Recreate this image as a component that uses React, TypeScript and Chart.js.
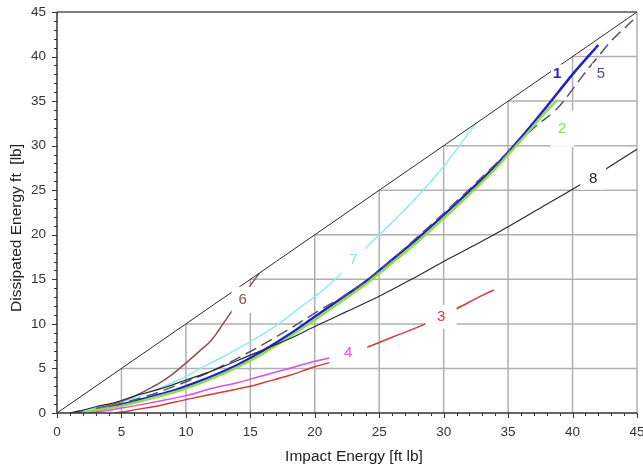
import React, { useEffect, useRef } from 'react';
import { Chart, registerables } from 'chart.js';

Chart.register(...registerables);

// ---- Data ----
const tickValues = [0, 5, 10, 15, 20, 25, 30, 35, 40, 45];

const diagonal: [number, number][] = [[0, 0], [45, 45]];

const curve1: [number, number][] = [
  [1.3, 0.05], [2, 0.2], [3, 0.4], [4, 0.65], [5, 0.95], [6, 1.3], [7, 1.7], [8, 2.1], [9, 2.5],
  [10, 3.0], [12, 4.1], [14, 5.4], [16, 7.0], [18, 8.8], [20, 10.8], [22, 12.8], [24, 14.8],
  [26, 17.2], [28, 19.6], [30, 22.2], [32, 24.9], [34, 27.7], [36, 30.9], [38, 34.4], [40, 38.0], [42, 41.3],
];

const curve2: [number, number][] = [
  [2, 0.1], [3, 0.3], [4, 0.55], [5, 0.8], [6, 1.15], [8, 1.9], [10, 2.75], [12, 3.85], [14, 5.15],
  [16, 6.7], [18, 8.5], [20, 10.45], [22, 12.45], [24, 14.5], [26, 16.85], [28, 19.25], [30, 21.85],
  [32, 24.55], [34, 27.4], [36, 30.6], [38, 33.9], [38.8, 35.1],
];

const curve3: [number, number][] = [
  [4.5, 0.0], [5, 0.1], [6, 0.35], [7, 0.6], [8, 0.85], [10, 1.5], [12, 2.1], [14, 2.7], [15, 3.0],
  [16, 3.4], [18, 4.2], [20, 5.2], [21, 5.6], [22, 6.1], [23, 6.8], [24.1, 7.4], [26, 8.5],
  [28.6, 10.0], [31, 11.7], [33, 13.2], [33.9, 13.8],
];

const curve4: [number, number][] = [
  [2.5, 0.0], [3, 0.1], [4, 0.3], [5, 0.55], [6, 0.8], [8, 1.35], [10, 1.95], [12, 2.75], [14, 3.4],
  [15, 3.8], [16, 4.2], [18, 5.0], [20, 5.8], [21.2, 6.2],
];

const curve5: [number, number][] = [
  [1.5, 0.1], [3, 0.45], [5, 1.1], [7, 1.9], [10, 3.5], [12, 4.7], [15, 6.9], [18, 9.4], [20, 11.2],
  [23, 13.8], [25, 16.0], [28, 19.8], [30, 22.4], [33, 26.5], [35, 29.3], [37, 32.0], [38.9, 34.3],
  [40.5, 37.3], [41.3, 38.8], [42.1, 40.2], [42.9, 41.6], [44.7, 44.1],
];

const curve6: [number, number][] = [
  [3, 0.5], [4, 0.85], [5, 1.3], [6, 1.9], [7, 2.6], [8, 3.4], [9, 4.4], [10, 5.6], [11.1, 7.0],
  [12, 8.2], [12.6, 9.4], [13.4, 11.1], [14, 12.3], [14.8, 13.9], [15.7, 15.7],
];

const curve7: [number, number][] = [
  [1.3, 0.1], [2, 0.25], [3, 0.5], [4, 0.85], [5, 1.25], [6, 1.7], [8, 2.8], [10, 4.1], [11, 4.9],
  [13, 6.4], [15, 8.0], [17, 9.8], [19, 12.0], [20.4, 13.5], [22, 15.6], [24.5, 19.3], [26.5, 22.1],
  [28.4, 25.0], [30, 27.7], [32.5, 32.5],
];

const curve8: [number, number][] = [
  [1, 0.0], [2, 0.3], [3, 0.7], [4, 1.0], [5, 1.4], [6, 1.9], [8, 2.7], [10, 3.7], [12, 4.7],
  [15, 6.5], [18, 8.3], [20, 9.7], [22.5, 11.4], [25, 13.1], [27.5, 15.0], [30, 17.0], [32.5, 18.9],
  [35, 20.9], [37.5, 23.0], [40, 25.1], [42.5, 27.3], [45, 29.6],
];

// curve labels: text, position in data units
const labelTexts = ['1', '2', '3', '4', '5', '6', '7', '8'];
const labelX = [38.8, 39.2, 29.8, 22.6, 42.2, 14.4, 23.0, 41.6];
const labelY = [38.1, 31.9, 10.8, 6.8, 38.1, 12.7, 17.2, 26.3];

// ---- Styles ----
const FONT = "'Liberation Sans', Arial, sans-serif";
const labelStyle = [
  { color: '#2323c4', w: 12, h: 18, bold: true },
  { color: '#8fdc4c', w: 24, h: 36, bold: false },
  { color: '#d43a3a', w: 31, h: 24, bold: false },
  { color: '#e04ee0', w: 38, h: 24, bold: false },
  { color: '#50507e', w: 18, h: 20, bold: false },
  { color: '#8a5050', w: 22, h: 26, bold: false },
  { color: '#7fe6ee', w: 24, h: 30, bold: false },
  { color: '#222222', w: 26, h: 22, bold: false },
];

const toPts = (arr: [number, number][]) => arr.map(([x, y]) => ({ x, y }));

const noEdgePadding = (s: any) => {
  s.paddingLeft = 0;
  s.paddingRight = 0;
  s.paddingTop = 0;
  s.paddingBottom = 0;
};

const gridPlugin = {
  id: 'triangleGrid',
  beforeDatasetsDraw(chart: any) {
    const { ctx, scales } = chart;
    const xs = scales.x, ys = scales.y;
    ctx.save();
    ctx.strokeStyle = '#b0b0b0';
    ctx.lineWidth = 1.5;
    for (const v of tickValues) {
      if (v === 0) continue;
      ctx.beginPath();
      ctx.moveTo(xs.getPixelForValue(v), ys.getPixelForValue(v));
      ctx.lineTo(xs.getPixelForValue(45), ys.getPixelForValue(v));
      ctx.moveTo(xs.getPixelForValue(v), ys.getPixelForValue(0));
      ctx.lineTo(xs.getPixelForValue(v), ys.getPixelForValue(v));
      ctx.stroke();
    }
    ctx.restore();
  },
  afterDatasetsDraw(chart: any) {
    const { ctx, scales, chartArea } = chart;
    const xs = scales.x, ys = scales.y;
    ctx.save();
    // label boxes and texts
    labelTexts.forEach((t, i) => {
      const px = xs.getPixelForValue(labelX[i]);
      const py = ys.getPixelForValue(labelY[i]);
      const st = labelStyle[i];
      ctx.fillStyle = '#ffffff';
      ctx.fillRect(px - st.w / 2, py - st.h / 2, st.w, st.h);
      ctx.fillStyle = st.color;
      ctx.font = `${st.bold ? 'bold ' : ''}15px ${FONT}`;
      ctx.textAlign = 'center';
      ctx.textBaseline = 'middle';
      ctx.fillText(t, px, py);
    });
    // frame and axes
    ctx.strokeStyle = '#555555';
    ctx.lineWidth = 1.5;
    ctx.beginPath();
    ctx.moveTo(chartArea.left, chartArea.top);
    ctx.lineTo(chartArea.right, chartArea.top);
    ctx.stroke();
    ctx.strokeStyle = '#333333';
    ctx.beginPath();
    ctx.moveTo(chartArea.left, chartArea.top);
    ctx.lineTo(chartArea.left, chartArea.bottom);
    ctx.lineTo(chartArea.right, chartArea.bottom);
    ctx.stroke();
    // tick marks (major every 5, minor every 1)
    ctx.lineWidth = 1;
    ctx.strokeStyle = '#333333';
    ctx.beginPath();
    for (let v = 0; v <= 45; v++) {
      const len = v % 5 === 0 ? 5 : 3;
      const px = Math.round(xs.getPixelForValue(v)) + 0.5;
      ctx.moveTo(px, chartArea.bottom);
      ctx.lineTo(px, chartArea.bottom + len);
      const py = Math.round(ys.getPixelForValue(v)) + 0.5;
      ctx.moveTo(chartArea.left, py);
      ctx.lineTo(chartArea.left - len, py);
    }
    ctx.stroke();
    // axis titles
    ctx.fillStyle = '#222222';
    ctx.font = `15.5px ${FONT}`;
    ctx.textAlign = 'center';
    ctx.textBaseline = 'alphabetic';
    ctx.fillText('Impact Energy [ft lb]', 354, 461);
    ctx.translate(21, 228);
    ctx.rotate(-Math.PI / 2);
    ctx.fillText('Dissipated Energy ft  [lb]', 0, 0);
    ctx.restore();
  },
};

export default function App() {
  const ref = useRef<HTMLCanvasElement | null>(null);
  useEffect(() => {
    if (!ref.current) return;
    const line = (data: [number, number][], color: string, width: number, dash: number[] = []) => ({
      data: toPts(data),
      borderColor: color,
      backgroundColor: color,
      borderWidth: width,
      borderDash: dash,
      pointRadius: 0,
      showLine: true,
      fill: false,
      cubicInterpolationMode: 'monotone' as const,
    });
    const chart = new Chart(ref.current, {
      type: 'scatter',
      data: {
        datasets: [
          line(diagonal, '#2a2a2a', 1),
          line(curve8, '#2a2a2a', 1.2),
          line(curve3, '#d43a3a', 1.5),
          line(curve4, '#e04ee0', 1.5),
          line(curve6, '#8a5050', 1.5),
          line(curve7, '#8cecf2', 1.5),
          line(curve2, '#8fdc4c', 2.5),
          line(curve5, '#50507e', 1.5, [12, 6]),
          line(curve1, '#2020c8', 2.5),
        ],
      },
      plugins: [gridPlugin],
      options: {
        responsive: false,
        animation: false,
        devicePixelRatio: 1,
        layout: { padding: { left: 0, right: 6, top: 12, bottom: 0 } },
        plugins: { legend: { display: false }, tooltip: { enabled: false } },
        scales: {
          x: {
            type: 'linear',
            min: 0,
            max: 45,
            afterFit: (s: any) => { s.height = 55; noEdgePadding(s); },
            grid: { display: false, drawTicks: false },
            border: { display: false },
            ticks: {
              stepSize: 5,
              padding: 11,
              maxRotation: 0,
              autoSkip: false,
              color: '#333333',
              font: { family: FONT, size: 13.5 },
            },
          },
          y: {
            type: 'linear',
            min: 0,
            max: 45,
            afterFit: (s: any) => { s.width = 57; noEdgePadding(s); },
            grid: { display: false, drawTicks: false },
            border: { display: false },
            ticks: {
              stepSize: 5,
              padding: 11,
              autoSkip: false,
              color: '#333333',
              font: { family: FONT, size: 13.5 },
            },
          },
        },
      },
    });
    return () => chart.destroy();
  }, []);
  return (
    <div style={{ position: 'fixed', left: 0, top: 0, width: 643, height: 468, background: '#fff' }}>
      <canvas ref={ref} width={643} height={468} style={{ display: 'block' }} />
    </div>
  );
}
